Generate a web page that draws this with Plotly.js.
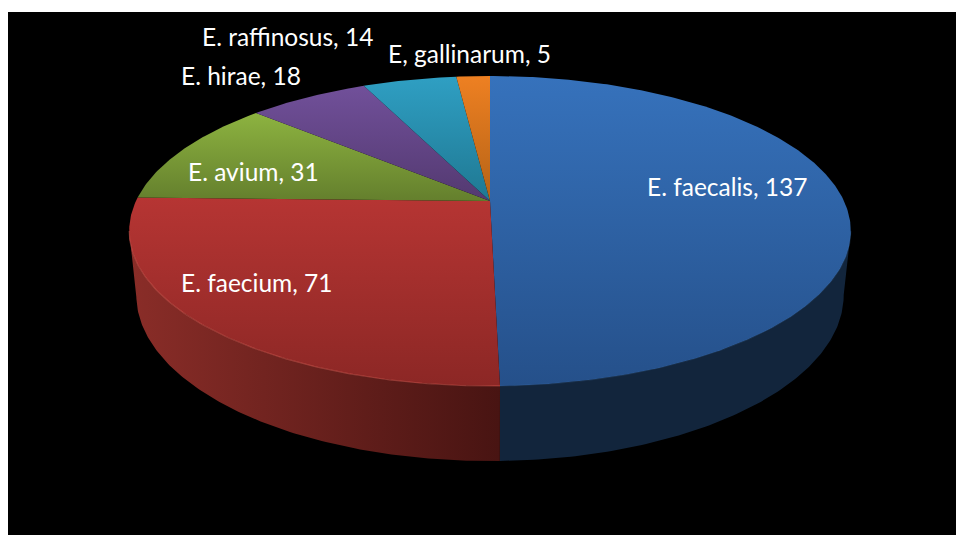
<!DOCTYPE html>
<html>
<head>
<meta charset="utf-8">
<script src="https://cdn.plot.ly/plotly-3.0.1.min.js"></script>
<style>html,body{margin:0;padding:0;background:#fff;overflow:hidden}#chart{width:956px;height:535px}</style>
</head>
<body>
<div id="chart"></div>
<script>
// Data, clockwise from twelve o'clock
const species = ["E. faecalis", "E. faecium", "E. avium", "E. hirae", "E. raffinosus", "E, gallinarum"];
const counts = [137, 71, 31, 18, 14, 5];

// Per-slice colours
const capTop = ["#3672BC", "#B63533", "#8DB340", "#71509A", "#2F9FC3", "#EE8022"];
const capBottom = ["#25508A", "#8C2725", "#647F2D", "#533970", "#1F7892", "#B56316"];
const wallLeft = ["#12253C", "#8A2D28", "#647F2D", "#533970", "#1F7892", "#B56316"];
const wallRight = ["#12253C", "#481412", "#647F2D", "#533970", "#1F7892", "#B56316"];
const rimColor = ["rgba(90,140,200,0.15)", "rgba(235,105,95,0.4)"];

// Label placement (centre points on the page)
const labelX = [727, 256, 253, 241, 287, 469];
const labelY = [186, 282, 171, 75, 36, 53];

// Perspective projection of the pie disc
const CX = 490, CY = 201, A = 354, B = 149.2, P = 0.1935;
const BX = 490, BY = 263, BA = 347, BB = 159.7;
function project(theta, bottom) {
  const u = Math.sin(theta), v = Math.cos(theta), d = 1 + P * v;
  return bottom ? [BX + BA * u / d, BY - BB * v / d] : [CX + A * u / d, CY - B * v / d];
}
function arc(t0, t1, bottom) {
  const n = Math.max(2, Math.ceil(Math.abs(t1 - t0) * 90)), pts = [];
  for (let i = 0; i <= n; i++) pts.push(project(t0 + (t1 - t0) * i / n, bottom));
  return pts;
}

// Only the front of the side wall shows: it runs between the disc's silhouette angles
const silR = Math.acos(-P), silL = 2 * Math.PI - silR;
const total = counts.reduce((a, b) => a + b, 0);
const walls = [], caps = [], rims = [];
let acc = 0;
counts.forEach((c, i) => {
  const t0 = acc / total * 2 * Math.PI;
  acc += c;
  const t1 = acc / total * 2 * Math.PI;
  const w0 = Math.max(t0, silR), w1 = Math.min(t1, silL);
  if (w0 < w1) {
    const pts = arc(w0, w1, false).concat(arc(w1, w0, true));
    walls.push({
      type: "scatter", mode: "lines", hoverinfo: "skip", showlegend: false,
      x: pts.map(p => p[0]), y: pts.map(p => p[1]),
      fill: "toself", line: {width: 0},
      fillcolor: wallRight[i],
      fillgradient: {type: "horizontal", colorscale: [[0, wallLeft[i]], [1, wallRight[i]]]}
    });
    rims.push({w0, w1, i});
  }
  const pts = [[CX, CY]].concat(arc(t0, t1, false), [[CX, CY]]);
  caps.push({
    type: "scatter", mode: "lines", hoverinfo: "skip", showlegend: false, name: species[i],
    x: pts.map(p => p[0]), y: pts.map(p => p[1]),
    fill: "toself", line: {width: 0},
    fillcolor: capBottom[i],
    fillgradient: {type: "vertical", colorscale: [[0, capBottom[i]], [1, capTop[i]]]}
  });
});
const rimTraces = rims.map(r => {
  const rim = arc(r.w0, r.w1, false);
  return {
    type: "scatter", mode: "lines", hoverinfo: "skip", showlegend: false,
    x: rim.map(p => p[0]), y: rim.map(p => p[1]),
    line: {width: 1.2, color: rimColor[r.i]}
  };
});

const annotations = species.map((s, i) => ({
  text: s + ", " + counts[i], x: labelX[i], y: labelY[i],
  xref: "x", yref: "y", xanchor: "center", yanchor: "middle", showarrow: false,
  font: {family: "Lato, sans-serif", size: 24.5, color: "#ffffff"}
}));

Plotly.newPlot("chart", walls.concat(caps, rimTraces), {
  width: 956, height: 535,
  margin: {l: 8, r: 0, t: 12, b: 0},
  paper_bgcolor: "#ffffff", plot_bgcolor: "#000000",
  showlegend: false,
  xaxis: {range: [8, 956], visible: false, fixedrange: true},
  yaxis: {range: [535, 12], visible: false, fixedrange: true},
  annotations
}, {displayModeBar: false, staticPlot: true});
</script>
</body>
</html>
